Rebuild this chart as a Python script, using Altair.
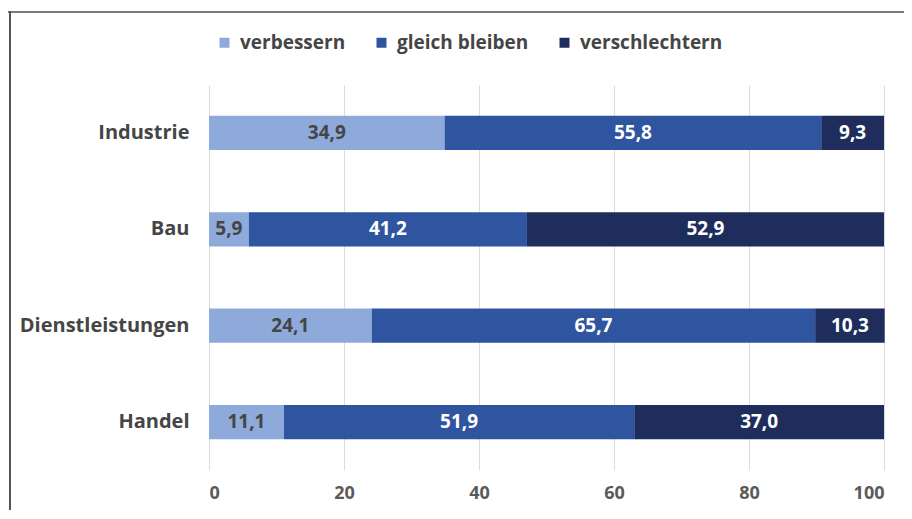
import altair as alt
import pandas as pd

sectors = ["Industrie", "Bau", "Dienstleistungen", "Handel"]
categories = ["verbessern", "gleich bleiben", "verschlechtern"]
verbessern = [34.9, 5.9, 24.1, 11.1]
gleich = [55.8, 41.2, 65.7, 51.9]
verschlechtern = [9.3, 52.9, 10.3, 37.0]
colors = ["#8eaadb", "#2f54a0", "#1e2d5c"]
x_ticks = [0, 20, 40, 60, 80, 100]

rows = []
for i, s in enumerate(sectors):
    for j, (c, vals) in enumerate(zip(categories, [verbessern, gleich, verschlechtern])):
        rows.append({"sector": s, "cat": c, "v": vals[i], "ord": j})
df = pd.DataFrame(rows)

FONT = "Open Sans"

base = alt.Chart(df).transform_stack(
    stack="v", as_=["v0", "v1"], groupby=["sector"], sort=[alt.SortField("ord")]
).transform_calculate(
    mid="(datum.v0 + datum.v1) / 2",
    lab="replace(format(datum.v, '.1f'), '.', ',')",
)

y_enc = alt.Y(
    "sector:N",
    sort=sectors,
    title=None,
    scale=alt.Scale(paddingInner=0.645, paddingOuter=0.32),
    axis=alt.Axis(
        domain=False, ticks=False, labelFont=FONT, labelFontSize=20,
        labelFontWeight="bold", labelColor="#454545", labelPadding=20,
    ),
)

bars = base.mark_bar().encode(
    x=alt.X(
        "v0:Q",
        scale=alt.Scale(domain=[0, 100], nice=False),
        title=None,
        axis=alt.Axis(
            values=x_ticks, domain=False, ticks=False, grid=True,
            gridColor="#dcdcdc", gridWidth=1, labelFont=FONT, labelFontSize=18,
            labelFontWeight="bold", labelColor="#5a5a5a", labelPadding=14,
        ),
    ),
    x2="v1:Q",
    y=y_enc,
    color=alt.Color(
        "cat:N",
        scale=alt.Scale(domain=categories, range=colors),
        title=None,
        legend=alt.Legend(
            orient="none", legendX=6, legendY=-52, direction="horizontal",
            symbolType="square", symbolSize=100, symbolStrokeWidth=0,
            labelFont=FONT, labelFontSize=19, labelFontWeight="bold",
            labelColor="#454545", columnPadding=26, padding=0, labelOffset=6,
        ),
    ),
)

texts = base.mark_text(font=FONT, fontSize=19, fontWeight="bold").encode(
    x="mid:Q",
    y=alt.Y("sector:N", sort=sectors),
    text="lab:N",
    color=alt.condition(
        alt.datum.cat == "verbessern", alt.value("#454545"), alt.value("white")
    ),
)

frame_top = alt.Chart(df).mark_rule(color="#7a7a7a", strokeWidth=2).encode(
    x=alt.value(-201), x2=alt.value(700), y=alt.value(-73)
)
frame_left = alt.Chart(df).mark_rule(color="#555555", strokeWidth=1.5).encode(
    x=alt.value(-199), y=alt.value(-74), y2=alt.value(500)
)

chart = alt.layer(bars, texts, frame_top, frame_left).properties(
    width=675,
    height=385,
    autosize=alt.AutoSizeParams(type="none"),
    padding={"left": 201, "top": 77, "right": 20, "bottom": 40},
).configure_view(stroke=None)

chart.save("out.html", embed_options={"renderer": "svg", "actions": False})
